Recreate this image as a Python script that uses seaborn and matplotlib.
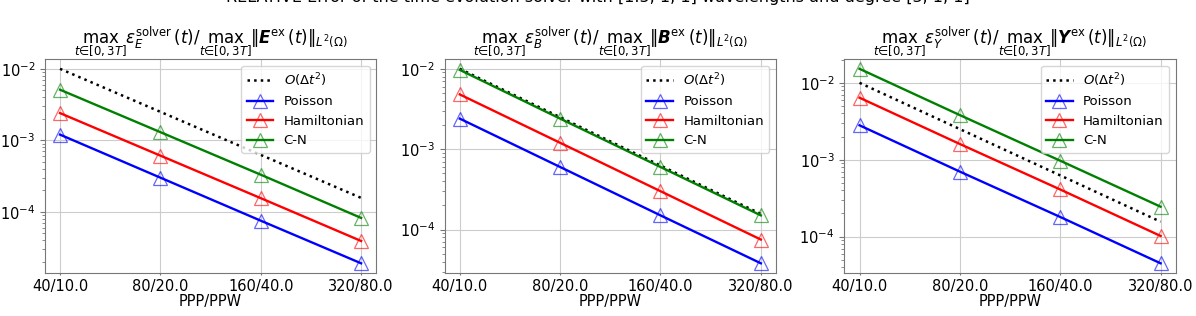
import numpy as np
import matplotlib
matplotlib.use("Agg")
import matplotlib.pyplot as plt
import seaborn as sns

# ---- data ----
ppp = [40, 80, 160, 320]
ppw = [10.0, 20.0, 40.0, 80.0]
tick_labels = [f"{a}/{b}" for a, b in zip(ppp, ppw)]

ref_order2 = [1.0e-2, 2.5e-3, 6.25e-4, 1.5625e-4]

E_poisson = [1.2e-3, 3.0e-4, 7.5e-5, 1.9e-5]
E_hamiltonian = [2.4e-3, 6.1e-4, 1.55e-4, 3.9e-5]
E_cn = [5.1e-3, 1.3e-3, 3.3e-4, 8.2e-5]

B_poisson = [2.4e-3, 6.0e-4, 1.5e-4, 3.8e-5]
B_hamiltonian = [4.8e-3, 1.2e-3, 3.0e-4, 7.5e-5]
B_cn = [9.7e-3, 2.4e-3, 6.0e-4, 1.5e-4]

Y_poisson = [2.8e-3, 7.0e-4, 1.8e-4, 4.5e-5]
Y_hamiltonian = [6.4e-3, 1.6e-3, 4.1e-4, 1.02e-4]
Y_cn = [1.52e-2, 3.8e-3, 9.7e-4, 2.45e-4]

fields = ["E", "B", "Y"]
series = {
    "E": [E_poisson, E_hamiltonian, E_cn],
    "B": [B_poisson, B_hamiltonian, B_cn],
    "Y": [Y_poisson, Y_hamiltonian, Y_cn],
}
series_names = ["Poisson", "Hamiltonian", "C-N"]
series_colors = [(0, 0, 1), (1, 0, 0), (0, 0.5, 0)]

suptitle = "RELATIVE Error of the time evolution solver with [1.5, 1, 1] wavelengths and degree [3, 1, 1]"

# ---- plot ----
fig, axes = plt.subplots(1, 3, figsize=(11.96, 3.16), dpi=100)
fig.subplots_adjust(left=0.0376, right=0.983, top=0.813, bottom=0.136, wspace=0.207)

xpos = np.arange(len(ppp))
fs = 10.5
for ax, f in zip(axes, fields):
    sns.lineplot(x=xpos, y=ref_order2, ax=ax, color="black", linestyle=":",
                 linewidth=1.8, label=r"$O(\Delta t^2)$")
    for vals, name, c in zip(series[f], series_names, series_colors):
        sns.lineplot(x=xpos, y=vals, ax=ax, color=c, linewidth=1.7,
                     marker="^", markersize=10.5, markerfacecolor="none",
                     markeredgecolor=(*c, 0.6), markeredgewidth=0.9,
                     label=name)
    ax.set_yscale("log")
    ax.set_xticks(xpos)
    ax.set_xticklabels(tick_labels, fontsize=fs)
    ax.tick_params(axis="x", length=1.5, pad=3, color="#777777")
    ax.tick_params(axis="y", which="both", labelsize=fs, color="#777777")
    ax.set_xlabel("PPP/PPW", fontsize=fs, labelpad=0)
    ax.set_ylabel("")
    ax.grid(True, which="major", color="#cccccc", linewidth=0.8)
    for sp in ax.spines.values():
        sp.set_color("#777777")
    ax.set_title(r"$\max_{t\in[0,3T]}\varepsilon_{%s}^{\mathrm{solver}}(t)/"
                 r"\max_{t\in[0,3T]}\|\boldsymbol{%s}^{\mathrm{ex}}(t)\|_{L^2(\Omega)}$" % (f, f),
                 fontsize=12, pad=3)
    ax.legend(loc="upper right", fontsize=9.5)

fig.text(0.5, 1 + 10 / 316, suptitle, ha="center", va="top", fontsize=11.5)

fig.savefig("out.png", dpi=100)
